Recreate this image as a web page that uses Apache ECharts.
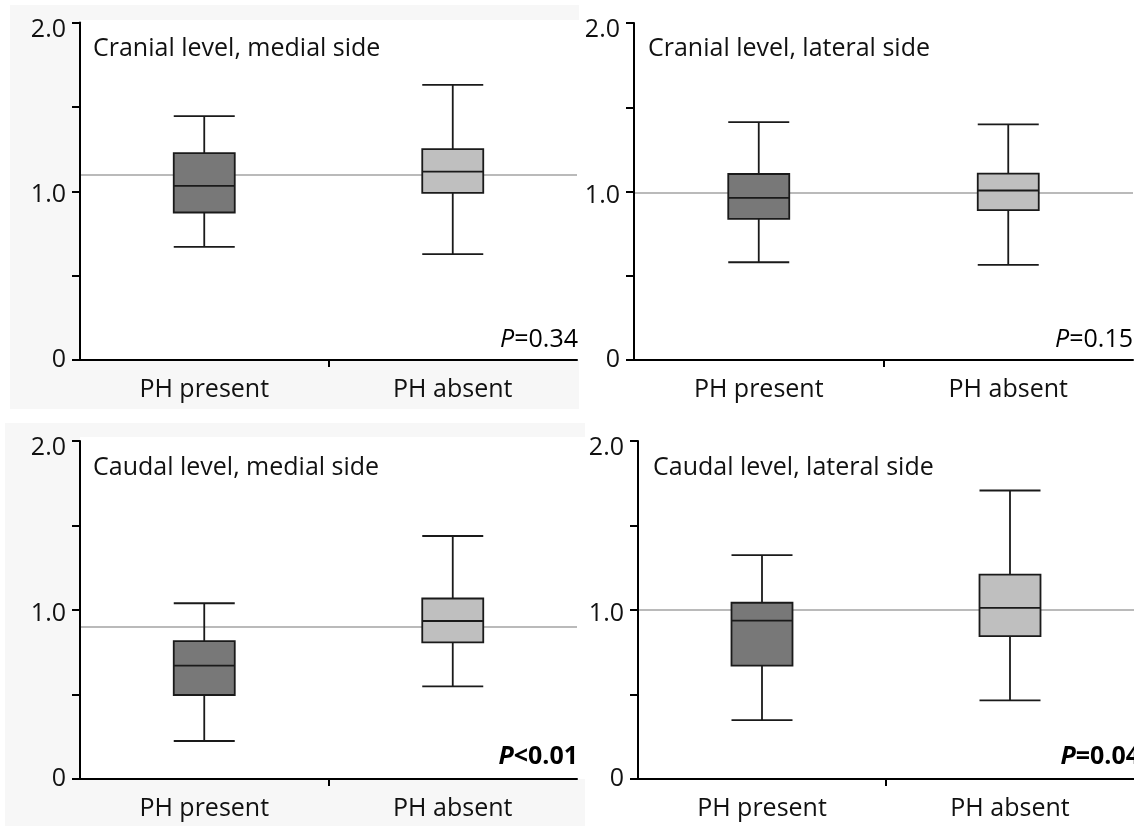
<!DOCTYPE html>
<html>
<head>
<meta charset="utf-8">
<script src="https://cdn.jsdelivr.net/npm/echarts@6/dist/echarts.min.js"></script>
<style>
  html, body { margin: 0; padding: 0; background: #ffffff; }
  #chart { width: 1134px; height: 826px; }
</style>
</head>
<body>
<div id="chart"></div>
<script>
// ---------------- data ----------------
const categories = ['PH present', 'PH absent'];
const panelTitles = [
  'Cranial level, medial side',
  'Cranial level, lateral side',
  'Caudal level, medial side',
  'Caudal level, lateral side'
];
// box values: [min, Q1, median, Q3, max]
const cranialMedialPresent  = [0.670, 0.874, 1.032, 1.226, 1.445];
const cranialMedialAbsent   = [0.628, 0.990, 1.116, 1.250, 1.630];
const cranialLateralPresent = [0.580, 0.838, 0.962, 1.104, 1.412];
const cranialLateralAbsent  = [0.565, 0.890, 1.006, 1.106, 1.398];
const caudalMedialPresent   = [0.225, 0.497, 0.671, 0.816, 1.040];
const caudalMedialAbsent    = [0.548, 0.808, 0.935, 1.068, 1.438];
const caudalLateralPresent  = [0.348, 0.671, 0.937, 1.043, 1.325];
const caudalLateralAbsent   = [0.465, 0.846, 1.012, 1.209, 1.707];
const referenceValues = [1.10, 0.99, 0.90, 1.00];
const pPrefix = ['=', '=', '<', '='];
const pValues = ['0.34', '0.15', '0.01', '0.04'];
const pBold = [false, false, true, true];
const yTickValues = [0, 1, 2];
const yTickLabels = ['0', '1.0', '2.0'];

const panelData = [
  [cranialMedialPresent, cranialMedialAbsent],
  [cranialLateralPresent, cranialLateralAbsent],
  [caudalMedialPresent, caudalMedialAbsent],
  [caudalLateralPresent, caudalLateralAbsent]
];

// ---------------- layout ----------------
const FONT = 'Open Sans';
const FS = 25;
const grids = [
  { left: 80,  top: 22.5, width: 497, height: 337.5 },
  { left: 634, top: 23,   width: 499, height: 337 },
  { left: 80,  top: 441,  width: 497, height: 338 },
  { left: 638, top: 441,  width: 496, height: 338 }
];
const titlePos = [[93, 49], [648, 49], [93, 468], [653, 468]];
const pPos = [[578, 340], [1133, 340], [578, 757], [1140, 757]];
const fills = ['#787878', '#bfbfbf'];
// vertical nudges of y tick labels (as top padding, text shifts by half)
const yLabelPad = [0, 8, 14];

const xAxes = [], yAxes = [], series = [], graphics = [];

// panel backgrounds (left panels have light gray frames)
graphics.push({ type: 'rect', z: -100, shape: { x: 10, y: 5, width: 569, height: 404 }, style: { fill: '#f7f7f7' } });
graphics.push({ type: 'rect', z: -99, shape: { x: 80, y: 20, width: 499, height: 340 }, style: { fill: '#ffffff' } });
graphics.push({ type: 'rect', z: -100, shape: { x: 5, y: 423, width: 580, height: 403 }, style: { fill: '#f7f7f7' } });
graphics.push({ type: 'rect', z: -99, shape: { x: 80, y: 437, width: 505, height: 342 }, style: { fill: '#ffffff' } });

const yRich = {};
yTickLabels.forEach((t, k) => {
  yRich['t' + k] = { fontSize: FS, fontFamily: FONT, color: '#111', padding: [yLabelPad[k], 0, 0, 0] };
});

grids.forEach((g, i) => {
  // main category axis
  xAxes.push({
    type: 'category', gridIndex: i, data: categories, boundaryGap: true,
    axisLine: { show: true, lineStyle: { color: '#000', width: 2 } },
    axisTick: { show: false },
    axisLabel: { color: '#111', fontSize: FS, fontFamily: FONT, margin: 17 },
    splitLine: { show: false }, z: 10
  });
  // overlay axis only for the tick between the two categories
  xAxes.push({
    type: 'category', gridIndex: i, data: ['', '', ''], boundaryGap: false, position: 'bottom',
    axisLine: { show: false },
    axisTick: { show: true, length: 7, interval: (idx) => idx === 1, lineStyle: { color: '#000', width: 2 } },
    axisLabel: { show: false }, splitLine: { show: false }
  });
  yAxes.push({
    type: 'value', gridIndex: i, min: 0, max: 2, interval: 0.5,
    axisLine: { show: true, lineStyle: { color: '#000', width: 2 } },
    axisTick: { show: true, length: 8, lineStyle: { color: '#000', width: 2 } },
    axisLabel: {
      color: '#111', fontSize: FS, fontFamily: FONT, margin: 14,
      formatter: (v) => { const k = yTickValues.indexOf(v); return k >= 0 ? `{t${k}|${yTickLabels[k]}}` : ''; },
      rich: yRich
    },
    splitLine: { show: false }, z: 10
  });
  // reference line
  series.push({
    type: 'line', xAxisIndex: 2 * i, yAxisIndex: i, data: [], z: 1, silent: true,
    markLine: {
      silent: true, symbol: ['none', 'none'],
      label: { show: false },
      lineStyle: { color: '#a3a3a3', width: 1.5, type: 'solid' },
      data: [{ yAxis: referenceValues[i] }]
    }
  });
  // boxes
  series.push({
    type: 'boxplot', xAxisIndex: 2 * i, yAxisIndex: i, z: 5, silent: true,
    boxWidth: [61, 61],
    data: panelData[i].map((v, k) => ({
      value: v,
      itemStyle: { color: fills[k], borderColor: '#1a1a1a', borderWidth: 1.8 }
    }))
  });
  // panel title
  graphics.push({
    type: 'text', x: titlePos[i][0], y: titlePos[i][1], z: 100,
    style: { text: panelTitles[i], font: `${FS}px "${FONT}"`, fill: '#111', align: 'left', verticalAlign: 'middle' }
  });
  // P value
  const w = pBold[i] ? 'bold' : 'normal';
  graphics.push({
    type: 'text', x: pPos[i][0], y: pPos[i][1], z: 100,
    style: {
      text: `{i|P}{n|${pPrefix[i]}${pValues[i]}}`,
      align: 'right', verticalAlign: 'middle',
      rich: {
        i: { fontStyle: 'italic', fontWeight: w, fontSize: FS, fontFamily: FONT, color: '#111' },
        n: { fontWeight: w, fontSize: FS, fontFamily: FONT, color: '#111' }
      }
    }
  });
});

const chart = echarts.init(document.getElementById('chart'), null, { renderer: 'canvas' });
chart.setOption({
  animation: false,
  backgroundColor: '#ffffff',
  grid: grids.map(g => Object.assign({ containLabel: false }, g)),
  xAxis: xAxes,
  yAxis: yAxes,
  series: series,
  graphic: { elements: graphics }
});
</script>
</body>
</html>
